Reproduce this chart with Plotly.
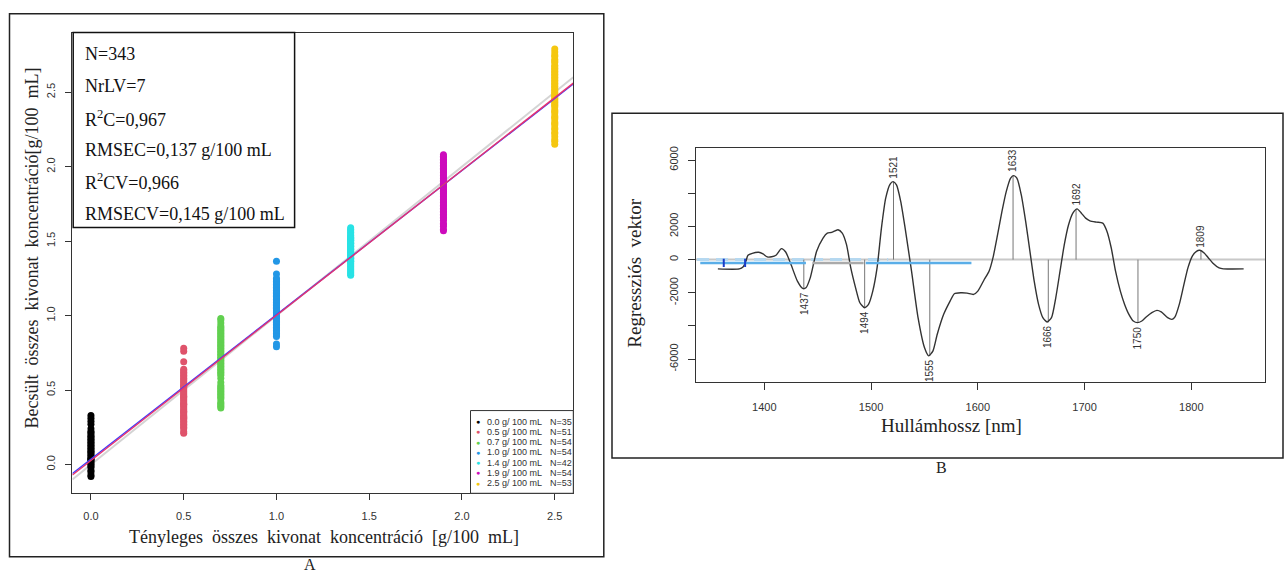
import plotly.graph_objects as go

W, H = 1284, 574
def px(x): return x / W
def py(y): return 1 - y / H

SERIF = "Liberation Serif, Times New Roman, serif"
SANS = "Liberation Sans, Arial, sans-serif"

# ---------------- Panel A data ----------------
ref_conc = [0.0, 0.5, 0.7, 1.0, 1.4, 1.9, 2.5]
group_labels = ["0.0 g/ 100 mL", "0.5 g/ 100 mL", "0.7 g/ 100 mL", "1.0 g/ 100 mL",
                "1.4 g/ 100 mL", "1.9 g/ 100 mL", "2.5 g/ 100 mL"]
group_n = [35, 51, 54, 54, 42, 54, 53]
group_colors = ["#000000", "#DF536B", "#61D04F", "#2297E6", "#28E2E5", "#CD0BBC", "#F5C710"]

pred_00 = [-0.08, -0.07, -0.05, -0.04, -0.02, -0.01, 0.0, 0.01, 0.02, 0.03, 0.035, 0.04, 0.05,
           0.06, 0.07, 0.08, 0.09, 0.10, 0.11, 0.12, 0.13, 0.14, 0.15, 0.16, 0.17, 0.18, 0.19,
           0.20, 0.215, 0.22, 0.24, 0.27, 0.29, 0.31, 0.33]
pred_05 = [0.21, 0.22, 0.24, 0.25, 0.26, 0.27, 0.28, 0.29, 0.30, 0.31, 0.315, 0.32, 0.33, 0.34,
           0.35, 0.355, 0.36, 0.37, 0.38, 0.39, 0.40, 0.405, 0.41, 0.42, 0.43, 0.44, 0.45, 0.455,
           0.46, 0.47, 0.48, 0.49, 0.50, 0.51, 0.52, 0.525, 0.53, 0.54, 0.55, 0.56, 0.57, 0.58,
           0.59, 0.60, 0.61, 0.62, 0.63, 0.64, 0.69, 0.76, 0.78]
pred_07 = [0.38, 0.39, 0.40, 0.41, 0.42, 0.44, 0.45, 0.46, 0.47, 0.48, 0.49, 0.50, 0.51, 0.52,
           0.53, 0.55, 0.58, 0.60, 0.61, 0.62, 0.63, 0.64, 0.65, 0.66, 0.67, 0.68, 0.69, 0.70,
           0.71, 0.72, 0.73, 0.74, 0.75, 0.76, 0.77, 0.78, 0.79, 0.80, 0.81, 0.82, 0.83, 0.84,
           0.85, 0.86, 0.87, 0.88, 0.89, 0.90, 0.91, 0.92, 0.93, 0.95, 0.97, 0.98]
pred_10 = [0.79, 0.81, 0.86, 0.87, 0.88, 0.89, 0.90, 0.91, 0.92, 0.93, 0.94, 0.95, 0.955, 0.96,
           0.97, 0.98, 0.985, 0.99, 1.00, 1.01, 1.02, 1.025, 1.03, 1.04, 1.05, 1.055, 1.06, 1.07,
           1.075, 1.08, 1.09, 1.10, 1.105, 1.11, 1.12, 1.125, 1.13, 1.135, 1.14, 1.15, 1.155,
           1.16, 1.165, 1.17, 1.18, 1.19, 1.20, 1.21, 1.22, 1.23, 1.24, 1.25, 1.28, 1.365]
pred_14 = [1.27, 1.28, 1.29, 1.30, 1.31, 1.32, 1.33, 1.34, 1.35, 1.36, 1.365, 1.37, 1.38, 1.385,
           1.39, 1.40, 1.405, 1.41, 1.42, 1.425, 1.43, 1.44, 1.445, 1.45, 1.46, 1.465, 1.47, 1.48,
           1.485, 1.49, 1.50, 1.505, 1.51, 1.52, 1.525, 1.53, 1.54, 1.55, 1.56, 1.57, 1.58, 1.59]
pred_19 = [1.57, 1.58, 1.60, 1.61, 1.62, 1.64, 1.65, 1.66, 1.67, 1.68, 1.69, 1.70, 1.71, 1.72,
           1.73, 1.74, 1.75, 1.76, 1.77, 1.78, 1.79, 1.80, 1.81, 1.82, 1.83, 1.835, 1.84, 1.85,
           1.86, 1.865, 1.87, 1.88, 1.885, 1.89, 1.90, 1.905, 1.91, 1.92, 1.93, 1.94, 1.95, 1.96,
           1.97, 1.98, 1.99, 2.00, 2.01, 2.02, 2.03, 2.04, 2.05, 2.06, 2.07, 2.08]
pred_25 = [2.15, 2.17, 2.18, 2.20, 2.22, 2.23, 2.25, 2.26, 2.28, 2.29, 2.30, 2.32, 2.33, 2.34,
           2.36, 2.37, 2.38, 2.40, 2.41, 2.42, 2.43, 2.44, 2.45, 2.46, 2.47, 2.48, 2.49, 2.50,
           2.51, 2.52, 2.53, 2.54, 2.55, 2.56, 2.57, 2.58, 2.59, 2.60, 2.61, 2.62, 2.63, 2.64,
           2.65, 2.66, 2.67, 2.68, 2.70, 2.71, 2.72, 2.74, 2.75, 2.77, 2.79]
predicted = [pred_00, pred_05, pred_07, pred_10, pred_14, pred_19, pred_25]

# regression lines (intercept, slope)
fit_cal = (0.037, 0.9685)
fit_cv = (0.027, 0.9744)
xa_range = [-0.1, 2.6]
ya_range = [-0.193, 2.9]
xa_ticks = [0.0, 0.5, 1.0, 1.5, 2.0, 2.5]
ya_ticks = [0.0, 0.5, 1.0, 1.5, 2.0, 2.5]

stats_lines = ["N=343", "NrLV=7", "R<sup>2</sup>C=0,967", "RMSEC=0,137 g/100 mL",
               "R<sup>2</sup>CV=0,966", "RMSECV=0,145 g/100 mL"]

# ---------------- Panel B data ----------------
wavelength = [1356.5, 1376.6, 1380, 1382.7, 1384.7, 1388.7, 1394.8, 1398.8, 1402.8, 1406.9,
              1410.9, 1416, 1420, 1425, 1431, 1435.9, 1439, 1443, 1449, 1455, 1459, 1463, 1469,
              1473, 1477, 1481, 1485.5, 1489.5, 1494, 1497.6, 1501.6, 1505.6, 1509.7, 1513.7,
              1517.7, 1520.6, 1523.8, 1527.8, 1531.9, 1537.9, 1544, 1550, 1554, 1558, 1562,
              1568, 1574, 1578, 1584, 1590, 1596, 1600, 1606, 1610.5, 1614.5, 1618.5, 1622.6,
              1626.6, 1630.6, 1633.5, 1636.7, 1640.7, 1644.8, 1648.8, 1652.8, 1656.9, 1660.9,
              1664.9, 1669, 1673, 1677, 1681, 1685, 1689, 1693, 1697, 1701, 1705, 1711, 1717,
              1721, 1725, 1729, 1733.5, 1737.5, 1741.5, 1745.6, 1749.6, 1753.6, 1757.7, 1763,
              1767.7, 1771.8, 1777.8, 1781.9, 1784.7, 1788.7, 1792.7, 1796.8, 1800.8, 1804.8,
              1808, 1812, 1816, 1820, 1826, 1830, 1849]
reg_vector = [-560, -560, -450, -100, 260, 380, 440, 340, 160, 170,
              260, 660, 460, -300, -1300, -1740, -1700, -1100, 500, 1300, 1600, 1640, 1800,
              1600, 900, -500, -1700, -2600, -2900, -2700, -1900, -500, 1900, 3700,
              4540, 4700, 4500, 3500, 1900, -700, -3500, -5300, -5800, -5500, -4500,
              -3300, -2500, -2060, -2000, -2020, -2100, -1900, -1200, -700, 200, 1500, 2900,
              4100, 4900, 5060, 4900, 3900, 2300, 500, -1300, -2700, -3500,
              -3760, -3500, -2300, -700, 900, 2100, 2800, 3060, 2800, 2500, 2340, 2260, 2200,
              1700, 700, -700, -1900, -2700, -3300, -3700, -3800, -3700, -3460, -3200,
              -3060, -3150, -3500, -3600, -3450, -2700, -1600, -500, 200, 500,
              560, 400, 100, -200, -500, -560, -560]
peak_wl = [1437, 1494, 1521, 1555, 1633, 1666, 1692, 1750, 1809]
peak_val = [-1750, -2900, 4700, -5800, 5080, -3780, 3050, -3820, 560]
xb_range = [1336, 1869]
yb_range = [-7400, 6740]
xb_ticks = [1400, 1500, 1600, 1700, 1800]
yb_ticks = [-6000, -4000, -2000, 0, 2000, 4000, 6000]
yb_ticktext = ["-6000", "", "-2000", "0", "2000", "", "6000"]

# overlay artefacts in panel B
blue_dash_x = [1337, 1516]
blue_dash_y = [0, 0]
blue_seg1_x = [1340, 1439]
blue_seg2_x = [1495, 1594]
gray_seg_x = [1445, 1493]
overlay_y = -200
blue_mark_x = [1362, 1382]

fig = go.Figure()

# ---- Panel A traces ----
fig.add_trace(go.Scatter(x=xa_range, y=xa_range, mode="lines",
                         line=dict(color="#d4d4d4", width=2), xaxis="x", yaxis="y",
                         showlegend=False, hoverinfo="skip"))
for conc, vals, col in zip(ref_conc, predicted, group_colors):
    fig.add_trace(go.Scatter(x=[conc] * len(vals), y=vals, mode="markers",
                             marker=dict(color=col, size=7, line=dict(width=0)),
                             xaxis="x", yaxis="y", showlegend=False))
for (b0, b1), col in [(fit_cal, "#3b3bff"), (fit_cv, "#e8336e")]:
    fig.add_trace(go.Scatter(x=xa_range, y=[b0 + b1 * v for v in xa_range], mode="lines",
                             line=dict(color=col, width=1.4), xaxis="x", yaxis="y",
                             showlegend=False, hoverinfo="skip"))

# ---- Panel B traces ----
fig.add_trace(go.Scatter(x=blue_dash_x, y=blue_dash_y, mode="lines",
                         line=dict(color="#b5d8f0", width=3, dash="12px,7px"),
                         xaxis="x2", yaxis="y2", showlegend=False, hoverinfo="skip"))
stem_x, stem_y = [], []
for w, v in zip(peak_wl, peak_val):
    stem_x += [w, w, None]
    stem_y += [0, v, None]
fig.add_trace(go.Scatter(x=stem_x, y=stem_y, mode="lines", line=dict(color="#777777", width=1),
                         xaxis="x2", yaxis="y2", showlegend=False, hoverinfo="skip"))
fig.add_trace(go.Scatter(x=wavelength, y=reg_vector, mode="lines",
                         line=dict(color="#333333", width=1.4, shape="spline", smoothing=0.6),
                         xaxis="x2", yaxis="y2", showlegend=False))
for seg, col in [(blue_seg1_x, "#5aaee8"), (gray_seg_x, "#aaaaaa"), (blue_seg2_x, "#5aaee8")]:
    fig.add_trace(go.Scatter(x=seg, y=[overlay_y] * len(seg), mode="lines",
                             line=dict(color=col, width=2.5), xaxis="x2", yaxis="y2",
                             showlegend=False, hoverinfo="skip"))
fig.add_trace(go.Scatter(x=blue_mark_x, y=[overlay_y] * len(blue_mark_x), mode="markers",
                         marker=dict(symbol="line-ns", size=6, line=dict(color="#1a3cc8", width=2)),
                         xaxis="x2", yaxis="y2", showlegend=False, hoverinfo="skip"))

axis_common = dict(showgrid=False, zeroline=False, showline=True, mirror=True,
                   linecolor="#333333", linewidth=1, ticks="outside",
                   tickcolor="#333333", tickfont=dict(family=SANS, size=11, color="#333333"))

fig.update_layout(
    width=W, height=H, margin=dict(l=0, r=0, t=0, b=0),
    paper_bgcolor="white", plot_bgcolor="white", showlegend=False,
    xaxis=dict(domain=[px(72.4), px(573.3)], range=xa_range, tickvals=xa_ticks, ticklen=6,
               tickformat=".1f", ticklabelstandoff=7, anchor="y", **axis_common),
    yaxis=dict(domain=[py(493), py(30.7)], range=ya_range, tickvals=ya_ticks, ticklen=6,
               tickformat=".1f", tickangle=-90, ticklabelstandoff=6, anchor="x", **axis_common),
    xaxis2=dict(domain=[px(696), px(1265)], range=xb_range, tickvals=xb_ticks, ticklen=7,
                ticklabelstandoff=7, anchor="y2", **axis_common),
    yaxis2=dict(domain=[py(381.7), py(146.3)], range=yb_range, tickvals=yb_ticks, ticklen=7,
                ticktext=yb_ticktext, tickangle=-90, ticklabelstandoff=6, anchor="x2", **axis_common),
)

shapes = [
    # outer frames
    dict(type="rect", xref="paper", yref="paper", x0=px(9.5), x1=px(603.8), y0=py(556.7), y1=py(11.7),
         line=dict(color="#222222", width=1.5)),
    dict(type="rect", xref="paper", yref="paper", x0=px(612), x1=px(1283), y0=py(457.5), y1=py(111.7),
         line=dict(color="#222222", width=1.5)),
    # stats box
    dict(type="rect", xref="paper", yref="paper", x0=px(73.2), x1=px(294.6), y0=py(226.2), y1=py(30.7),
         line=dict(color="#111111", width=1.5), fillcolor="white"),
    # legend box
    dict(type="rect", xref="paper", yref="paper", x0=px(470.5), x1=px(573.3), y0=py(493), y1=py(410),
         line=dict(color="#333333", width=1), fillcolor="white"),
    # zero line panel B
    dict(type="line", xref="x2 domain", yref="y2", x0=0, x1=1, y0=0, y1=0,
         line=dict(color="#c8c8c8", width=2), layer="below"),
]
fig.update_layout(shapes=shapes)

def note(text, x, y, size, family=SERIF, color="#222222", xanchor="center", yanchor="middle", **kw):
    return dict(text=text, x=x, y=y, xref="paper", yref="paper", showarrow=False,
                xanchor=xanchor, yanchor=yanchor, font=dict(family=family, size=size, color=color), **kw)

ann = []
ann.append(note("Tényleges\u00a0 összes\u00a0 kivonat\u00a0 koncentráció\u00a0 [g/100\u00a0 mL]",
                px(323.5), py(537), 18))
ann.append(note("Becsült\u00a0 összes\u00a0 kivonat\u00a0 koncentráció[g/100\u00a0 mL]",
                px(32.4), py(247), 18, textangle=-90))
ann.append(note("Hullámhossz [nm]", px(951.5), py(425), 19))
ann.append(note("Regressziós\u00a0 vektor", px(633.6), py(272), 19, textangle=-90))
ann.append(note("A", px(310), py(564), 16))
ann.append(note("B", px(941), py(467), 16))

for i, t in enumerate(stats_lines):
    ann.append(note(t, px(83), py(52.5 + 32 * i), 18, color="#111111", xanchor="left"))

for i, (lab, n, col) in enumerate(zip(group_labels, group_n, group_colors)):
    yy = py(421 + 10.3 * i)
    ann.append(note("●", px(477.7), yy, 7, family=SANS, color=col))
    ann.append(note(lab, px(485.3), yy, 9, family=SANS, color="#333333", xanchor="left"))
    ann.append(note(f"N={n}", px(548), yy, 9, family=SANS, color="#333333", xanchor="left"))

for w, v in zip(peak_wl, peak_val):
    ann.append(dict(text=str(w), x=w, y=v, xref="x2", yref="y2", showarrow=False, textangle=-90,
                    xanchor="center", yanchor="bottom" if v > 0 else "top", yshift=1 if v > 0 else -1,
                    font=dict(family=SANS, size=10, color="#333333")))

fig.update_layout(annotations=ann)

fig.write_html("out.html", config={"displayModeBar": False},
               post_script="document.body.style.margin='0';")
